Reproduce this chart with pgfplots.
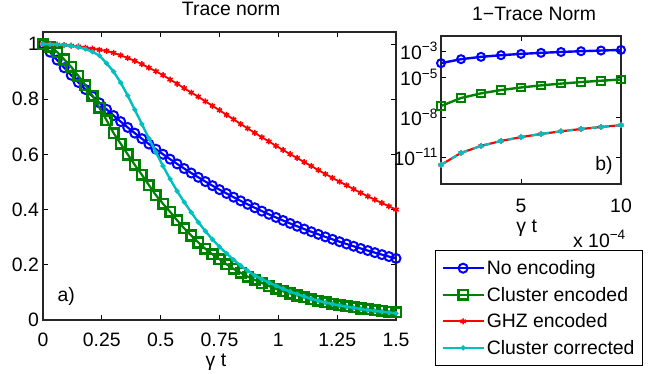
\documentclass[border=0pt]{standalone}
\usepackage{fontspec}
\setmainfont{Liberation Sans}
\usepackage{pgfplots}
\pgfplotsset{compat=1.18}
\usepackage{pgfplotstable}

\definecolor{mblue}{rgb}{0,0,1}
\definecolor{mgreen}{rgb}{0,0.5,0}
\definecolor{mred}{rgb}{1,0,0}
\definecolor{mcyan}{rgb}{0,0.75,0.75}

\pgfplotstableread{
t blue green red cyan
0.00 1.0000 1.000 1.000 1.000
0.03 0.9704 0.990 0.999 0.999
0.06 0.9418 0.971 0.998 0.998
0.09 0.9139 0.944 0.996 0.996
0.12 0.8869 0.917 0.994 0.993
0.15 0.8607 0.885 0.991 0.989
0.18 0.8353 0.851 0.987 0.982
0.21 0.8106 0.813 0.983 0.972
0.24 0.7866 0.769 0.979 0.958
0.27 0.7634 0.724 0.975 0.930
0.30 0.7408 0.677 0.968 0.900
0.33 0.7189 0.639 0.959 0.860
0.36 0.6977 0.600 0.949 0.813
0.39 0.6771 0.562 0.939 0.762
0.42 0.6570 0.526 0.927 0.710
0.45 0.6376 0.489 0.914 0.658
0.48 0.6188 0.452 0.901 0.607
0.51 0.6005 0.421 0.887 0.558
0.54 0.5827 0.392 0.871 0.511
0.57 0.5655 0.361 0.856 0.467
0.60 0.5488 0.332 0.840 0.427
0.63 0.5326 0.306 0.824 0.390
0.66 0.5169 0.281 0.809 0.354
0.69 0.5016 0.258 0.792 0.322
0.72 0.4868 0.238 0.776 0.292
0.75 0.4724 0.220 0.760 0.265
0.78 0.4584 0.202 0.743 0.241
0.81 0.4449 0.185 0.727 0.218
0.84 0.4317 0.171 0.710 0.197
0.87 0.4190 0.157 0.694 0.178
0.90 0.4066 0.145 0.678 0.161
0.93 0.3946 0.134 0.662 0.148
0.96 0.3829 0.123 0.647 0.136
0.99 0.3716 0.113 0.631 0.124
1.02 0.3606 0.104 0.616 0.113
1.05 0.3499 0.096 0.601 0.103
1.08 0.3396 0.089 0.587 0.094
1.11 0.3296 0.082 0.572 0.085
1.14 0.3198 0.075 0.558 0.077
1.17 0.3104 0.069 0.543 0.070
1.20 0.3012 0.064 0.529 0.063
1.23 0.2923 0.059 0.515 0.058
1.26 0.2837 0.054 0.501 0.053
1.29 0.2753 0.050 0.488 0.048
1.32 0.2671 0.046 0.474 0.044
1.35 0.2592 0.042 0.461 0.040
1.38 0.2516 0.039 0.448 0.036
1.41 0.2441 0.036 0.436 0.033
1.44 0.2369 0.033 0.424 0.030
1.47 0.2299 0.030 0.412 0.027
1.50 0.2231 0.028 0.400 0.024
}\maindata

\pgfplotstableread{
x blue green red
1 1.2e-4 7.0e-8 2.5e-12
2 2.4e-4 2.8e-7 2.0e-11
3 3.6e-4 6.3e-7 6.75e-11
4 4.8e-4 1.12e-6 1.6e-10
5 6.0e-4 1.75e-6 3.125e-10
6 7.2e-4 2.52e-6 5.4e-10
7 8.4e-4 3.43e-6 8.575e-10
8 9.6e-4 4.48e-6 1.28e-9
9 1.08e-3 5.67e-6 1.8225e-9
10 1.2e-3 7.0e-6 2.5e-9
}\insetdata

\begin{document}
\begin{tikzpicture}[font=\fontsize{19.4}{23}\selectfont]
\path[use as bounding box, clip] (0pt,0pt) rectangle (652pt,373pt);
\begin{axis}[
  at={(43pt,53pt)}, anchor=south west, scale only axis,
  width=353pt, height=288pt,
  xmin=0, xmax=1.5, ymin=0, ymax=1.0435,
  xtick={0,0.25,0.5,0.75,1,1.25,1.5},
  xticklabels={0,0.25,0.5,0.75,1,1.25,1.5},
  ytick={0,0.2,0.4,0.6,0.8,1},
  yticklabels={0,0.2,0.4,0.6,0.8,1},
  tick align=inside, major tick length=5pt,
  tick style={black, line width=0.8pt},
  axis line style={line width=1.3pt, black!85},
  xticklabel style={anchor=north, inner sep=0pt, yshift=-13pt},
  yticklabel style={anchor=east, inner sep=0pt, xshift=-4pt},
  xlabel={γ t},
  xlabel style={at={(axis description cs:0.49,0)}, anchor=base, yshift=-46pt, inner sep=0pt},
  title={Trace norm},
  title style={at={(axis description cs:0.533,1)}, anchor=base, yshift=11pt, inner sep=0pt},
  legend style={at={(1.1105,0.243)}, anchor=north west, draw=black, line width=0.8pt,
    inner xsep=6pt, inner ysep=8pt, row sep=7pt, fill=white,
    font=\fontsize{19.4}{23}\selectfont},
  legend cell align=left,
  legend image code/.code={\draw[mark repeat=2,mark phase=2,#1] plot coordinates {(0pt,0pt)(20.5pt,0pt)(41pt,0pt)};},
  clip mode=individual,
]
\addplot[mblue, line width=2.2pt, mark=o, mark size=4.5pt, mark options={line width=2pt}] table[x=t,y=blue]{\maindata};
\addlegendentry{No encoding}
\addplot[mgreen, line width=2.2pt, mark=square, mark size=4.8pt, mark options={line width=2.6pt}] table[x=t,y=green]{\maindata};
\addlegendentry{Cluster encoded}
\addplot[mred, line width=1.8pt, mark=asterisk, mark size=3pt, mark options={line width=1.5pt}] table[x=t,y=red]{\maindata};
\addlegendentry{GHZ encoded}
\addplot[mcyan, line width=2.4pt, mark=*, mark size=1.1pt] table[x=t,y=cyan]{\maindata};
\addlegendentry{Cluster corrected}
\node at (axis cs:0.099,0.085) {a)};
\end{axis}

\begin{axis}[
  at={(441pt,189pt)}, anchor=south west, scale only axis,
  width=180pt, height=148pt,
  xmin=1, xmax=10, ymode=log, ymin=9e-14, ymax=1.35e-2,
  xtick={5,10}, xticklabels={5,10},
  ytick={1e-11,1e-8,1e-5,1e-3},
  yticklabels={10\textsuperscript{−11},10\textsuperscript{−8},10\textsuperscript{−5},10\textsuperscript{−3}},
  tick align=inside, major tick length=5pt,
  tick style={black, line width=0.8pt},
  axis line style={line width=1.3pt, black!85},
  xticklabel style={anchor=north, inner sep=0pt, yshift=-15pt},
  yticklabel style={anchor=east, inner sep=0pt, xshift=-3pt},
  xlabel={γ t},
  xlabel style={at={(axis description cs:0.476,0)}, anchor=base, yshift=-48pt, inner sep=0pt},
  title={1−Trace Norm},
  title style={at={(axis description cs:0.517,1)}, anchor=base, yshift=9.5pt, inner sep=0pt},
  clip mode=individual,
]
\addplot[mblue, line width=2.4pt, mark=o, mark size=4pt, mark options={line width=2pt}] table[x=x,y=blue]{\insetdata};
\addplot[mgreen, line width=2.4pt, mark=square, mark size=3.8pt, mark options={line width=2pt}] table[x=x,y=green]{\insetdata};
\addplot[mred, line width=2.2pt, mark=asterisk, mark size=2.8pt, mark options={line width=1.2pt}] table[x=x,y=red]{\insetdata};
\addplot[mcyan, line width=2.2pt, dash pattern=on 6pt off 6pt, mark=*, mark size=1.6pt, mark options={solid}] table[x=x,y=red]{\insetdata};
\node at (axis cs:9.15,2.1e-12) {b)};
\node[anchor=base west, inner sep=0pt, yshift=-63pt] at (axis description cs:0.733,0) {x 10\textsuperscript{−4}};
\end{axis}
\end{tikzpicture}
\end{document}
